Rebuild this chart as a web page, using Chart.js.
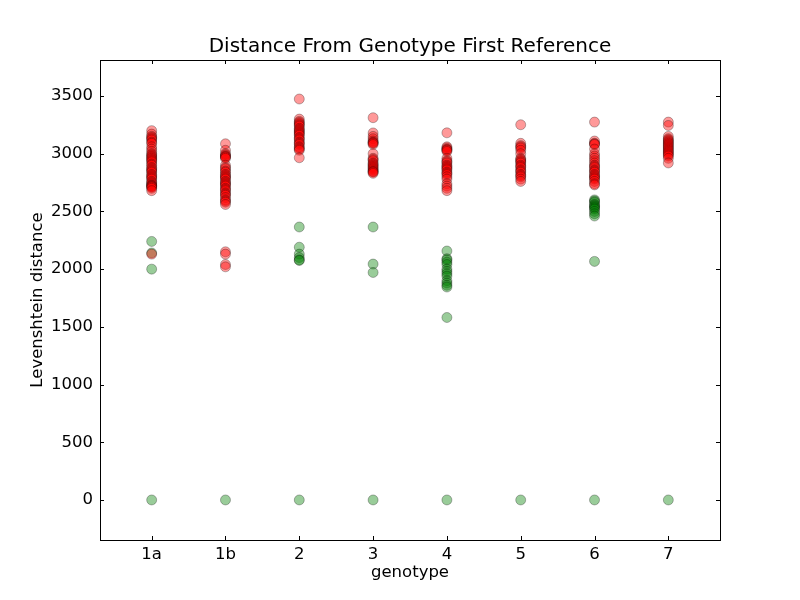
<!DOCTYPE html>
<html>
<head>
<meta charset="utf-8">
<script src="https://cdn.jsdelivr.net/npm/chart.js@4"></script>
<style>
  html, body { margin: 0; padding: 0; background: #fff; }
</style>
</head>
<body>
<canvas id="chart" width="800" height="600"></canvas>
<script>
const genotypes = ['1a', '1b', '2', '3', '4', '5', '6', '7'];

// distances to sequences of other genotypes (red)
const otherGenotypeDistances = [
    [3200, 3170, 3150, 3140, 3130, 3120, 3100, 3090, 3060, 3040, 3020, 3000, 2990, 2980, 2970, 2960, 2950, 2940, 2930, 2910, 2900, 2880, 2870, 2860, 2850, 2840, 2820, 2810, 2800, 2790, 2780, 2760, 2750, 2740, 2730, 2725, 2720, 2715, 2710, 2700, 2680, 2130],
    [3086, 3030, 3000, 2990, 2980, 2975, 2970, 2960, 2900, 2880, 2870, 2850, 2840, 2820, 2810, 2800, 2790, 2780, 2760, 2750, 2740, 2730, 2720, 2700, 2690, 2680, 2660, 2650, 2640, 2620, 2600, 2590, 2580, 2560, 2150, 2130, 2040, 2020],
    [3474, 3300, 3280, 3270, 3260, 3250, 3240, 3220, 3210, 3200, 3190, 3180, 3170, 3160, 3140, 3130, 3120, 3100, 3090, 3080, 3060, 3050, 3040, 3030, 2965],
    [3312, 3180, 3150, 3130, 3110, 3100, 3095, 3090, 3080, 3000, 2960, 2950, 2940, 2920, 2910, 2900, 2890, 2880, 2870, 2860, 2850, 2845, 2840, 2830],
    [3181, 3060, 3050, 3040, 3035, 3030, 3020, 2960, 2940, 2930, 2920, 2900, 2890, 2880, 2870, 2860, 2840, 2830, 2820, 2800, 2780, 2740, 2720, 2700, 2680],
    [3251, 3090, 3070, 3060, 3050, 3030, 3000, 2960, 2950, 2940, 2930, 2920, 2900, 2890, 2880, 2860, 2850, 2840, 2820, 2810, 2800, 2780, 2760],
    [3274, 3110, 3090, 3085, 3080, 3040, 3000, 2980, 2960, 2940, 2920, 2900, 2890, 2880, 2860, 2850, 2840, 2820, 2810, 2800, 2790, 2780, 2760, 2740, 2730],
    [3274, 3245, 3150, 3130, 3120, 3110, 3100, 3090, 3080, 3070, 3060, 3050, 3040, 3030, 3020, 3010, 3000, 2990, 2980, 2960, 2920]
];

// distances to sequences of the same genotype (green)
const sameGenotypeDistances = [
    [2240, 2140, 2000, 0],
    [0],
    [2365, 2190, 2130, 2100, 2080, 2075, 0],
    [2365, 2044, 1971, 0],
    [2157, 2090, 2080, 2060, 2040, 2000, 1980, 1960, 1940, 1900, 1880, 1860, 1845, 1581, 0],
    [0],
    [2600, 2590, 2580, 2560, 2550, 2540, 2530, 2520, 2500, 2480, 2460, 2067, 0],
    [0]
];

const yTicks = [0, 500, 1000, 1500, 2000, 2500, 3000, 3500];

const toPoints = (groups) => groups.flatMap((vals, i) => vals.map(v => ({ x: i, y: v })));

const FONT = '"DejaVu Sans", Verdana, sans-serif';

// frame, inward ticks and titles, matplotlib style
const framePlugin = {
    id: 'frame',
    afterDraw(chart) {
        const { ctx, chartArea: a, scales } = chart;
        ctx.save();
        ctx.strokeStyle = '#000';
        ctx.lineWidth = 1;
        ctx.strokeRect(a.left + 0.5, a.top + 0.5, a.right - a.left, a.bottom - a.top);

        ctx.beginPath();
        genotypes.forEach((g, i) => {
            const px = Math.round(scales.x.getPixelForValue(i)) + 0.5;
            ctx.moveTo(px, a.bottom); ctx.lineTo(px, a.bottom - 4);
            ctx.moveTo(px, a.top); ctx.lineTo(px, a.top + 4);
        });
        yTicks.forEach(v => {
            const py = Math.round(scales.y.getPixelForValue(v)) + 0.5;
            ctx.moveTo(a.left, py); ctx.lineTo(a.left + 4, py);
            ctx.moveTo(a.right, py); ctx.lineTo(a.right - 4, py);
        });
        ctx.stroke();

        ctx.fillStyle = '#000';
        ctx.textAlign = 'center';
        ctx.textBaseline = 'middle';
        const cx = (a.left + a.right) / 2;
        ctx.font = '20px ' + FONT;
        ctx.fillText('Distance From Genotype First Reference', cx, 47);
        ctx.font = '16.5px ' + FONT;
        ctx.fillText('genotype', cx, 573);
        ctx.translate(38, (a.top + a.bottom) / 2);
        ctx.rotate(-Math.PI / 2);
        ctx.fillText('Levenshtein distance', 0, 0);
        ctx.restore();
    }
};

new Chart(document.getElementById('chart').getContext('2d'), {
    type: 'scatter',
    data: {
        datasets: [
            {
                label: 'other genotypes',
                data: toPoints(otherGenotypeDistances),
                backgroundColor: 'rgba(255, 0, 0, 0.4)',
                borderColor: 'rgba(0, 0, 0, 0.35)',
                borderWidth: 0.8,
                pointRadius: 5,
                pointHoverRadius: 5
            },
            {
                label: 'same genotype',
                data: toPoints(sameGenotypeDistances),
                backgroundColor: 'rgba(0, 128, 0, 0.4)',
                borderColor: 'rgba(0, 0, 0, 0.35)',
                borderWidth: 0.8,
                pointRadius: 5,
                pointHoverRadius: 5
            }
        ]
    },
    options: {
        responsive: false,
        animation: false,
        devicePixelRatio: 1,
        layout: { padding: { top: 60, left: 0, right: 80, bottom: 0 } },
        plugins: {
            legend: { display: false },
            tooltip: { enabled: false }
        },
        scales: {
            x: {
                type: 'linear',
                min: -0.7,
                max: 7.7,
                afterBuildTicks: (scale) => { scale.ticks = genotypes.map((g, i) => ({ value: i })); },
                afterFit: (scale) => { scale.height = 60; },
                grid: { display: false, drawTicks: false },
                border: { display: false },
                ticks: {
                    padding: 5,
                    color: '#000',
                    font: { family: FONT, size: 16.5 },
                    maxRotation: 0,
                    callback: (v) => genotypes[v]
                }
            },
            y: {
                min: -347,
                max: 3812,
                afterBuildTicks: (scale) => { scale.ticks = yTicks.map(v => ({ value: v })); },
                afterFit: (scale) => { scale.width = 100; },
                grid: { display: false, drawTicks: false },
                border: { display: false },
                ticks: {
                    padding: 7,
                    color: '#000',
                    font: { family: FONT, size: 16.5 },
                    callback: (v) => String(v)
                }
            }
        }
    },
    plugins: [framePlugin]
});
</script>
</body>
</html>
